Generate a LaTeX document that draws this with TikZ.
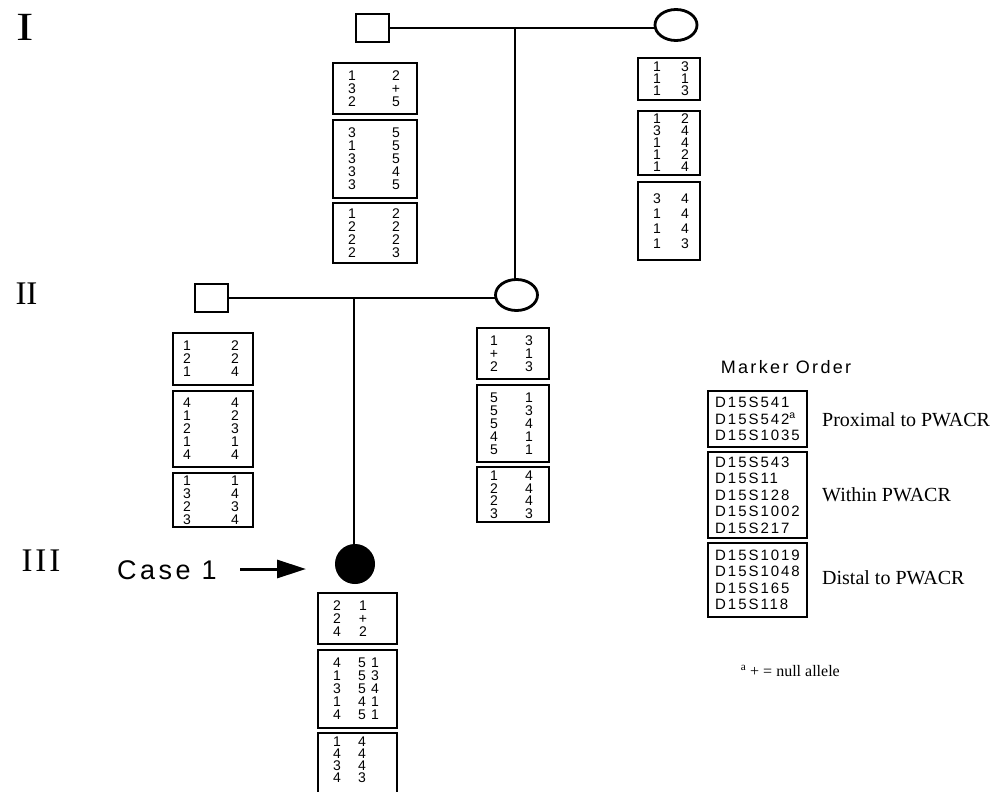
\documentclass[tikz,border=0pt]{standalone}
\usepackage{fontspec}
\setmainfont{Liberation Serif}
\newfontfamily\hel{Liberation Sans}
\newfontfamily\helsp[LetterSpace=13]{Liberation Sans}
\usetikzlibrary{arrows.meta,shapes.geometric}
\begin{document}
\begin{tikzpicture}[x=1pt,y=-1pt,
  gen/.style={font=\fontsize{33}{33}\selectfont, inner sep=0},
  indiv/.style={draw, line width=2.8pt, inner sep=0, outer sep=0},
  male/.style={indiv, rectangle, minimum width=33, minimum height=28},
  female/.style={indiv, ellipse, minimum width=42, minimum height=31},
  affected/.style={indiv, circle, fill=black, line width=1pt, minimum size=39},
  pline/.style={line width=2.6pt},
  hbox/.style={draw, line width=1.1pt, inner sep=0, outer sep=0},
  col/.style={font=\hel\fontsize{14}{13}\selectfont, align=center, inner sep=0},
  mk/.style={font=\helsp\fontsize{15}{16.5}\selectfont, align=left, inner sep=0, anchor=west},
  lab/.style={font=\fontsize{20}{22}\selectfont, inner sep=0, anchor=west}
]
\clip (0,0) rectangle (1004,792);
\fill[white] (0,0) rectangle (1004,792);

% generation labels
\node[gen, font=\fontsize{40}{40}\selectfont, xscale=1.3] (gI) at (25.5,27) {I};
\node[gen] (gII) at (26.5,294) {II};
\node[gen] (gIII) at (41,561) {I\kern3pt I\kern3pt I};

% individuals
\node[male] (mI) at (372.5,28) {};
\node[female] (fI) at (676,25) {};
\node[male] (mII) at (211.5,298) {};
\node[female] (fII) at (516.5,295) {};
\node[affected] (pIII) at (355,564) {};

% lines
\coordinate (cI) at (515,28);
\coordinate (cII) at (354,299);
\draw[pline] (mI.east) -- (mI.east -| fI.west);
\draw[pline] (cI) -- (cI |- fII.north);
\draw[pline] (mII.east) -- (mII.east -| fII.west);
\draw[pline] (cII) -- (cII |- pIII.north);

% case label and arrow
\node[font=\helsp\fontsize{27}{27}\selectfont, inner sep=0] (case) at (167,570) {Case 1};
\coordinate (arrS) at (240,569);
\coordinate (arrE) at (306,569);
\draw[line width=3pt, -{Triangle[length=29pt,width=18pt]}] (arrS) -- (arrE);

% I male boxes
\node[hbox, minimum width=84, minimum height=51] (mIa) at (375,88.5) {};
\node[col] (mIaL) at (352,88.5) {1\\3\\2};
\node[col] (mIaR) at (396,88.5) {2\\+\\5};
\node[hbox, minimum width=84, minimum height=78] (mIb) at (375,159) {};
\node[col] (mIbL) at (352,159) {3\\1\\3\\3\\3};
\node[col] (mIbR) at (396,159) {5\\5\\5\\4\\5};
\node[hbox, minimum width=84, minimum height=60] (mIc) at (375,233) {};
\node[col] (mIcL) at (352,233) {1\\2\\2\\2};
\node[col] (mIcR) at (396,233) {2\\2\\2\\3};

% I female boxes
\node[hbox, minimum width=62, minimum height=42] (fIa) at (669,79) {};
\node[col, font=\hel\fontsize{14}{12}\selectfont] (fIaL) at (657,79) {1\\1\\1};
\node[col, font=\hel\fontsize{14}{12}\selectfont] (fIaR) at (685,79) {3\\1\\3};
\node[hbox, minimum width=62, minimum height=64] (fIb) at (669,143) {};
\node[col, font=\hel\fontsize{14}{12}\selectfont] (fIbL) at (657,143) {1\\3\\1\\1\\1};
\node[col, font=\hel\fontsize{14}{12}\selectfont] (fIbR) at (685,143) {2\\4\\4\\2\\4};
\node[hbox, minimum width=62, minimum height=78] (fIc) at (669,221) {};
\node[col, font=\hel\fontsize{14}{15}\selectfont] (fIcL) at (657,221) {3\\1\\1\\1};
\node[col, font=\hel\fontsize{14}{15}\selectfont] (fIcR) at (685,221) {4\\4\\4\\3};

% II male boxes
\node[hbox, minimum width=80, minimum height=52] (mIIa) at (213,359) {};
\node[col] (mIIaL) at (187,359) {1\\2\\1};
\node[col] (mIIaR) at (235,359) {2\\2\\4};
\node[hbox, minimum width=80, minimum height=76] (mIIb) at (213,429) {};
\node[col] (mIIbL) at (187,429) {4\\1\\2\\1\\4};
\node[col] (mIIbR) at (235,429) {4\\2\\3\\1\\4};
\node[hbox, minimum width=80, minimum height=54] (mIIc) at (213,500) {};
\node[col] (mIIcL) at (187,500) {1\\3\\2\\3};
\node[col] (mIIcR) at (235,500) {1\\4\\3\\4};

% II female boxes
\node[hbox, minimum width=72, minimum height=51] (fIIa) at (513,353.5) {};
\node[col] (fIIaL) at (494,353.5) {1\\+\\2};
\node[col] (fIIaR) at (529,353.5) {3\\1\\3};
\node[hbox, minimum width=72, minimum height=77] (fIIb) at (513,423.5) {};
\node[col] (fIIbL) at (494,423.5) {5\\5\\5\\4\\5};
\node[col] (fIIbR) at (529,423.5) {1\\3\\4\\1\\1};
\node[hbox, minimum width=72, minimum height=55] (fIIc) at (513,494.5) {};
\node[col, font=\hel\fontsize{14}{12.5}\selectfont] (fIIcL) at (494,494.5) {1\\2\\2\\3};
\node[col, font=\hel\fontsize{14}{12.5}\selectfont] (fIIcR) at (529,494.5) {4\\4\\4\\3};

% III boxes
\node[hbox, minimum width=79, minimum height=51] (pa) at (357.5,618.5) {};
\node[col] (paL) at (337,618.5) {2\\2\\4};
\node[col] (paR) at (363,618.5) {1\\+\\2};
\node[hbox, minimum width=79, minimum height=78] (pb) at (357.5,689) {};
\node[col] (pbL) at (337,689) {4\\1\\3\\1\\4};
\node[col] (pbM) at (362,689) {5\\5\\5\\4\\5};
\node[col] (pbR) at (375,689) {1\\3\\4\\1\\1};
\node[hbox, minimum width=79, minimum height=63] (pc) at (357.5,764.5) {};
\node[col, font=\hel\fontsize{14}{12}\selectfont] (pcL) at (337,760) {1\\4\\3\\4};
\node[col, font=\hel\fontsize{14}{12}\selectfont] (pcR) at (362,760) {4\\4\\4\\3};

% marker order
\node[font=\helsp\fontsize{18}{18}\selectfont, inner sep=0] (mo) at (786,367) {Marker Order};
\node[hbox, minimum width=99, minimum height=56] (ka) at (757.5,419) {};
\node[mk] (kaT) at (715,419) {D15S541\\D15S542\textsuperscript{a}\\D15S1035};
\node[hbox, minimum width=99, minimum height=86] (kb) at (757.5,495) {};
\node[mk] (kbT) at (715,495) {D15S543\\D15S11\\D15S128\\D15S1002\\D15S217};
\node[hbox, minimum width=99, minimum height=74] (kc) at (757.5,580) {};
\node[mk] (kcT) at (715,580) {D15S1019\\D15S1048\\D15S165\\D15S118};
\node[lab] (la) at (822,420) {Proximal to PWACR};
\node[lab] (lb) at (822,495) {Within PWACR};
\node[lab] (lc) at (822,578) {Distal to PWACR};

% footnote
\node[font=\fontsize{16}{16}\selectfont, inner sep=0, anchor=east] (fn) at (840,671) {\textsuperscript{a} + = null allele};
\end{tikzpicture}
\end{document}
